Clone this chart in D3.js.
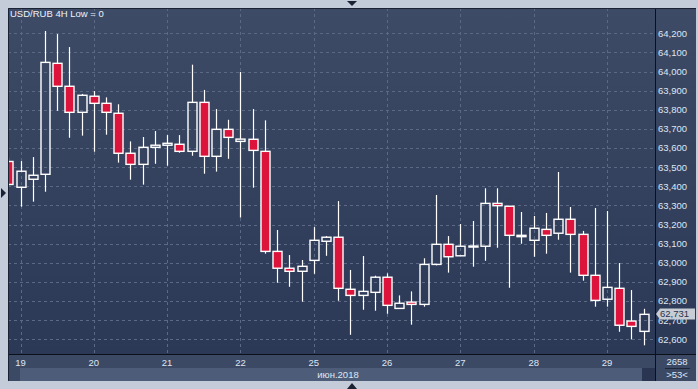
<!DOCTYPE html>
<html>
<head>
<meta charset="utf-8">
<script src="https://cdn.jsdelivr.net/npm/d3@7/dist/d3.min.js"></script>
<style>
  html, body { margin: 0; padding: 0; background: #c3ccd8; }
  svg { display: block; font-family: 'Liberation Sans', Arial, sans-serif; }
</style>
</head>
<body>
<div id="chart"></div>
<script>
// candle data, index -1 is the partly hidden bar on the left edge
const candleIndex = d3.range(-1, 52)
const opens = [63.53, 63.395, 63.437, 63.463, 64.043, 63.923, 63.787, 63.871, 63.834, 63.782, 63.573, 63.515, 63.604,
  63.615, 63.620, 63.583, 63.839, 63.557, 63.698, 63.635, 63.646, 63.583, 63.060, 62.972, 62.956, 63.013, 63.113,
  63.134, 62.862, 62.830, 62.846, 62.925, 62.762, 62.795, 62.783, 62.992, 63.097, 63.037, 63.085, 63.087, 63.311,
  63.296, 63.137, 63.118, 63.175, 63.155, 63.228, 63.149, 62.935, 62.810, 62.867, 62.696, 62.642]
const highs = [63.55, 63.532, 63.553, 64.212, 64.196, 64.128, 63.883, 63.898, 63.865, 63.829, 63.635, 63.658, 63.689,
  63.668, 63.668, 64.036, 63.904, 63.804, 63.748, 63.998, 63.804, 63.745, 63.172, 63.041, 63.015, 63.187, 63.140,
  63.323, 62.963, 63.036, 62.933, 62.945, 62.830, 62.851, 63.024, 63.355, 63.140, 63.203, 63.219, 63.390, 63.390,
  63.296, 63.266, 63.245, 63.261, 63.475, 63.292, 63.167, 63.287, 63.271, 62.999, 62.858, 62.760]
const lows = [63.40, 63.294, 63.320, 63.372, 63.795, 63.654, 63.665, 63.581, 63.670, 63.524, 63.435, 63.409, 63.518,
  63.508, 63.576, 63.560, 63.466, 63.477, 63.544, 63.237, 63.393, 63.048, 62.896, 62.875, 62.797, 62.943, 63.037,
  62.802, 62.624, 62.755, 62.750, 62.734, 62.762, 62.677, 62.771, 62.987, 62.949, 63.037, 62.980, 63.011, 63.079,
  62.870, 63.100, 63.032, 63.048, 63.121, 62.949, 62.907, 62.771, 62.771, 62.640, 62.600, 62.569]
const closes = [63.41, 63.479, 63.458, 64.048, 63.923, 63.787, 63.876, 63.834, 63.787, 63.573, 63.515, 63.604, 63.615,
  63.625, 63.583, 63.839, 63.557, 63.698, 63.656, 63.647, 63.588, 63.060, 62.972, 62.956, 62.982, 63.118, 63.134,
  62.867, 62.830, 62.851, 62.925, 62.778, 62.789, 62.783, 62.992, 63.097, 63.032, 63.087, 63.088, 63.311, 63.299,
  63.144, 63.144, 63.181, 63.144, 63.228, 63.149, 62.935, 62.804, 62.872, 62.674, 62.668, 62.731]

// x axis: day labels and the candle index where each day starts
const dayLabels = ['19', '20', '21', '22', '25', '26', '27', '28', '29']
const dayStarts = [0, 6, 12, 18, 24, 30, 36, 42, 48]
const monthLabel = 'июн.2018'

// y axis ticks
const priceTicks = d3.range(62.6, 64.25, 0.1).map(v => +v.toFixed(1))
const lastPrice = 62.731
const barCount = '2658'
const visibleBars = '>53<'
const title = 'USD/RUB 4H Low = 0'

const candles = candleIndex.map((idx, k) => ({
  idx,
  open: opens[k],
  high: highs[k],
  low: lows[k],
  close: closes[k],
}))

const width = 698
const height = 389
const plot = { left: 8, top: 8, right: 655, bottom: 354 }
const frame = { right: 696, bottom: 381 }

const svg = d3
  .create('svg')
  .attr('width', width)
  .attr('height', height)

const defs = svg.append('defs')
const grad = defs
  .append('linearGradient')
  .attr('id', 'bg')
  .attr('x1', 0)
  .attr('y1', 0)
  .attr('x2', 0)
  .attr('y2', 1)
grad.append('stop').attr('offset', '0%').attr('stop-color', '#3e4b66')
grad.append('stop').attr('offset', '100%').attr('stop-color', '#2b3856')

defs
  .append('clipPath')
  .attr('id', 'plotClip')
  .append('rect')
  .attr('x', plot.left + 1)
  .attr('y', plot.top + 1)
  .attr('width', plot.right - plot.left - 1)
  .attr('height', plot.bottom - plot.top - 1)

// outer frame
svg.append('rect').attr('width', width).attr('height', height).attr('fill', '#c3ccd8')

// panels
svg
  .append('rect')
  .attr('x', plot.left)
  .attr('y', plot.top)
  .attr('width', frame.right - plot.left)
  .attr('height', plot.bottom - plot.top)
  .attr('fill', 'url(#bg)')

svg
  .append('rect')
  .attr('x', plot.left)
  .attr('y', plot.bottom)
  .attr('width', frame.right - plot.left)
  .attr('height', frame.bottom - plot.bottom)
  .attr('fill', '#3c4964')

svg
  .append('rect')
  .attr('x', 20)
  .attr('y', 368)
  .attr('width', 622)
  .attr('height', frame.bottom - 368)
  .attr('fill', '#4d5c78')

svg
  .append('rect')
  .attr('x', 642)
  .attr('y', 368)
  .attr('width', plot.right - 642)
  .attr('height', frame.bottom - 368)
  .attr('fill', '#2a3651')

// scales
const xScale = d3.scaleLinear().domain([0, 48]).range([20.5, 607])
const yScale = d3.scaleLinear().domain([62.6, 64.2]).range([339.4, 33.3])

// grid
const grid = svg.append('g').attr('clip-path', 'url(#plotClip)')
grid
  .selectAll('line.h')
  .data(priceTicks)
  .join('line')
  .attr('class', 'h')
  .attr('x1', plot.left)
  .attr('x2', plot.right)
  .attr('y1', d => Math.round(yScale(d)) + 0.5)
  .attr('y2', d => Math.round(yScale(d)) + 0.5)
  .attr('stroke', '#5b6984')
  .attr('stroke-dasharray', '3,3')

grid
  .selectAll('line.v')
  .data(dayStarts)
  .join('line')
  .attr('class', 'v')
  .attr('x1', d => Math.round(xScale(d)) + 0.5)
  .attr('x2', d => Math.round(xScale(d)) + 0.5)
  .attr('y1', plot.top)
  .attr('y2', plot.bottom)
  .attr('stroke', '#5b6984')
  .attr('stroke-dasharray', '3,3')

// candles
const bodyW = 9
const chart = svg.append('g').attr('clip-path', 'url(#plotClip)')
const bars = chart
  .selectAll('g.candle')
  .data(candles)
  .join('g')
  .attr('class', 'candle')
  .attr('transform', d => `translate(${Math.round(xScale(d.idx)) + 0.5}, 0)`)

bars
  .append('line')
  .attr('y1', d => yScale(d.high))
  .attr('y2', d => yScale(Math.max(d.open, d.close)))
  .attr('stroke', '#ffffff')
  .attr('stroke-width', 1.2)

bars
  .append('line')
  .attr('y1', d => yScale(Math.min(d.open, d.close)))
  .attr('y2', d => yScale(d.low))
  .attr('stroke', '#ffffff')
  .attr('stroke-width', 1.2)

bars
  .append('rect')
  .attr('x', -bodyW / 2)
  .attr('width', bodyW)
  .attr('y', d => yScale(Math.max(d.open, d.close)))
  .attr('height', d => Math.max(1, Math.abs(yScale(d.open) - yScale(d.close))))
  .attr('fill', d => (d.close < d.open ? '#dc143c' : 'none'))
  .attr('stroke', '#ffffff')
  .attr('stroke-width', 1.4)

// separators
svg
  .append('line')
  .attr('x1', plot.right + 0.5)
  .attr('x2', plot.right + 0.5)
  .attr('y1', plot.top)
  .attr('y2', frame.bottom)
  .attr('stroke', '#0c1018')
svg
  .append('line')
  .attr('x1', plot.left)
  .attr('x2', frame.right)
  .attr('y1', plot.bottom + 0.5)
  .attr('y2', plot.bottom + 0.5)
  .attr('stroke', '#0c1018')
svg
  .append('path')
  .attr('d', `M${plot.left + 0.5},${frame.bottom} V${plot.top + 0.5} H${frame.right}`)
  .attr('fill', 'none')
  .attr('stroke', '#1a2233')

// title
svg
  .append('text')
  .attr('x', 10)
  .attr('y', 17)
  .attr('fill', '#eef2f8')
  .attr('font-size', 9.5)
  .text(title)

// price axis
svg
  .append('g')
  .selectAll('text')
  .data(priceTicks)
  .join('text')
  .attr('x', 658)
  .attr('y', d => yScale(d))
  .attr('dy', '0.35em')
  .attr('fill', '#dde6f4')
  .attr('font-size', 9.5)
  .text(d => d3.format('.3f')(d).replace('.', ','))

// last price marker
const ly = Math.round(yScale(lastPrice))
svg
  .append('path')
  .attr('d', `M656,${ly} L660,${ly - 5.5} H695 V${ly + 5.5} H660 Z`)
  .attr('fill', '#c8cdd5')
svg
  .append('text')
  .attr('x', 660)
  .attr('y', ly)
  .attr('dy', '0.35em')
  .attr('fill', '#26324a')
  .attr('font-size', 9.5)
  .text(d3.format('.3f')(lastPrice).replace('.', ','))

// time axis
svg
  .append('g')
  .selectAll('text')
  .data(dayStarts)
  .join('text')
  .attr('x', d => xScale(d))
  .attr('y', 366)
  .attr('text-anchor', 'middle')
  .attr('fill', '#dde6f4')
  .attr('font-size', 9.5)
  .text((d, i) => dayLabels[i])

svg
  .append('text')
  .attr('x', 338)
  .attr('y', 378)
  .attr('text-anchor', 'middle')
  .attr('fill', '#dde6f4')
  .attr('font-size', 9.5)
  .text(monthLabel)

// bars counter box
svg
  .append('text')
  .attr('x', 677)
  .attr('y', 365)
  .attr('text-anchor', 'middle')
  .attr('fill', '#dde6f4')
  .attr('font-size', 9.5)
  .text(barCount)
svg
  .append('line')
  .attr('x1', 665)
  .attr('x2', 690)
  .attr('y1', 368.5)
  .attr('y2', 368.5)
  .attr('stroke', '#1e2738')
svg
  .append('text')
  .attr('x', 677)
  .attr('y', 378)
  .attr('text-anchor', 'middle')
  .attr('fill', '#dde6f4')
  .attr('font-size', 9.5)
  .text(visibleBars)

// little scroll markers on the frame
const markers = [
  'M347,1 H357 L352,6 Z',
  'M347,389 H357 L352,383 Z',
  'M1,188 V198 L6,193 Z',
]
svg
  .append('g')
  .selectAll('path')
  .data(markers)
  .join('path')
  .attr('d', d => d)
  .attr('fill', '#1a2233')

document.getElementById('chart').appendChild(svg.node())
</script>
</body>
</html>
